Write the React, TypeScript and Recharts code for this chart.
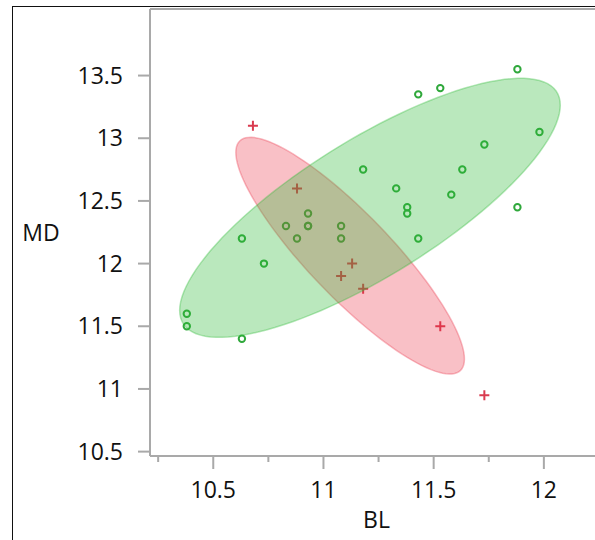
import React from 'react';
import { ScatterChart, Scatter, XAxis, YAxis, ReferenceLine } from 'recharts';

// ---- data ----
const greenBL = [10.38, 10.38, 10.63, 10.63, 10.73, 10.83, 10.88, 10.93, 10.93, 10.93, 11.08, 11.08, 11.18, 11.33, 11.38, 11.38, 11.43, 11.43, 11.53, 11.58, 11.63, 11.73, 11.88, 11.88, 11.98];
const greenMD = [11.6, 11.5, 11.4, 12.2, 12.0, 12.3, 12.2, 12.4, 12.3, 12.3, 12.3, 12.2, 12.75, 12.6, 12.45, 12.4, 12.2, 13.35, 13.4, 12.55, 12.75, 12.95, 13.55, 12.45, 13.05];
const redBL = [10.68, 10.88, 11.08, 11.13, 11.18, 11.53, 11.73];
const redMD = [13.1, 12.6, 11.9, 12.0, 11.8, 11.5, 10.95];

// ellipse: centre BL, centre MD, var BL, cov, var MD
const greenEllipse = [11.211, 12.445, 0.7455, 0.7069, 1.0676];
const redEllipse = [11.121, 12.063, 0.2689, -0.4272, 0.8917];

const xTicks = [10.25, 10.5, 10.75, 11, 11.25, 11.5, 11.75, 12];
const xMajor = [10.5, 11, 11.5, 12];
const yTicks = [10.5, 11, 11.5, 12, 12.5, 13, 13.5];
const xDomain = [10.213, 12.232];
const yDomain = [10.465, 14.031];

const GREEN = '#2fa83b';
const RED = '#d93b4f';
const AXIS = '#a9a9a9';
const FONT = "'Open Sans', sans-serif";

const toPoints = (xs: number[], ys: number[]) => xs.map((x, i) => ({ x, y: ys[i] }));

const ellipsePoints = (e: number[]) => {
  const [cx, cy, a, b, c] = e;
  const l11 = Math.sqrt(a);
  const l21 = b / l11;
  const l22 = Math.sqrt(c - l21 * l21);
  const pts = [];
  for (let i = 0; i < 120; i++) {
    const t = (i / 120) * Math.PI * 2;
    pts.push({ x: cx + l11 * Math.cos(t), y: cy + l21 * Math.cos(t) + l22 * Math.sin(t) });
  }
  return pts;
};

const greenData = toPoints(greenBL, greenMD);
const redData = toPoints(redBL, redMD);
const greenEll = ellipsePoints(greenEllipse);
const redEll = ellipsePoints(redEllipse);

const ellipseLine = (fill: string, stroke: string) => (props: any) => {
  const pts = props.points || [];
  const d = pts.map((p: any, i: number) => `${i ? 'L' : 'M'}${p.x},${p.y}`).join('') + 'Z';
  return <path d={d} fill={fill} stroke={stroke} strokeWidth={1.5} />;
};

const Circle = (p: any) => <circle cx={p.cx} cy={p.cy} r={3.2} fill="none" stroke={GREEN} strokeWidth={2} />;
const Plus = (p: any) => (
  <path d={`M${p.cx - 5},${p.cy}H${p.cx + 5}M${p.cx},${p.cy - 5}V${p.cy + 5}`} stroke={RED} strokeWidth={2} fill="none" />
);
const Nothing = () => <g />;

const XTick = (props: any) => {
  const { x, y, payload } = props;
  const major = xMajor.includes(payload.value);
  return (
    <g>
      <line x1={x} x2={x} y1={y} y2={y + (major ? 13 : 6)} stroke={AXIS} strokeWidth={2} />
      {major && (
        <text x={x} y={y + 26} dy="0.71em" textAnchor="middle" fontSize={23} fontFamily={FONT} fill="#111">
          {String(payload.value)}
        </text>
      )}
    </g>
  );
};

export default function App() {
  return (
    <div style={{ position: 'absolute', left: 0, top: 0, width: 595, height: 540, background: '#fff', overflow: 'hidden' }}>
      <div style={{ position: 'absolute', left: 12, top: 6, width: 600, height: 560, borderTop: '1px solid #111', borderLeft: '1px solid #111' }} />
      <div style={{ position: 'absolute', left: 0, top: 0 }}>
        <ScatterChart width={595} height={540} margin={{ top: 9, right: 0, bottom: 0, left: 0 }}>
          <XAxis
            type="number"
            dataKey="x"
            domain={xDomain}
            allowDataOverflow
            ticks={xTicks}
            interval={0}
            height={84}
            tickSize={0}
            tickMargin={0}
            tickLine={false}
            axisLine={{ stroke: AXIS, strokeWidth: 2 }}
            tick={<XTick />}
            label={(p: any) => {
              const vb = p.viewBox || {};
              return (
                <text x={vb.x + vb.width / 2 + 4} y={528} textAnchor="middle" fontSize={23} fontFamily={FONT} fill="#111">
                  BL
                </text>
              );
            }}
          />
          <YAxis
            type="number"
            dataKey="y"
            domain={yDomain}
            allowDataOverflow
            ticks={yTicks}
            interval={0}
            width={150}
            tickSize={12}
            tickMargin={15}
            tickLine={{ stroke: AXIS, strokeWidth: 2 }}
            axisLine={{ stroke: AXIS, strokeWidth: 2 }}
            tick={{ fontSize: 23, fontFamily: FONT, fill: '#111' }}
            label={(p: any) => {
              const vb = p.viewBox || {};
              return (
                <text x={41} y={vb.y + vb.height / 2} dy="0.355em" textAnchor="middle" fontSize={23} fontFamily={FONT} fill="#111">
                  MD
                </text>
              );
            }}
          />
          <ReferenceLine y={yDomain[1]} stroke={AXIS} strokeWidth={2} />
          <Scatter data={greenData} shape={Circle} isAnimationActive={false} />
          <Scatter data={redData} shape={Plus} isAnimationActive={false} />
          <Scatter
            data={redEll}
            shape={Nothing}
            line={ellipseLine('rgba(235,45,65,0.3)', 'rgba(235,60,80,0.35)')}
            lineType="joint"
            isAnimationActive={false}
          />
          <Scatter
            data={greenEll}
            shape={Nothing}
            line={ellipseLine('rgba(45,185,55,0.33)', 'rgba(45,185,55,0.35)')}
            lineType="joint"
            isAnimationActive={false}
          />
        </ScatterChart>
      </div>
    </div>
  );
}
